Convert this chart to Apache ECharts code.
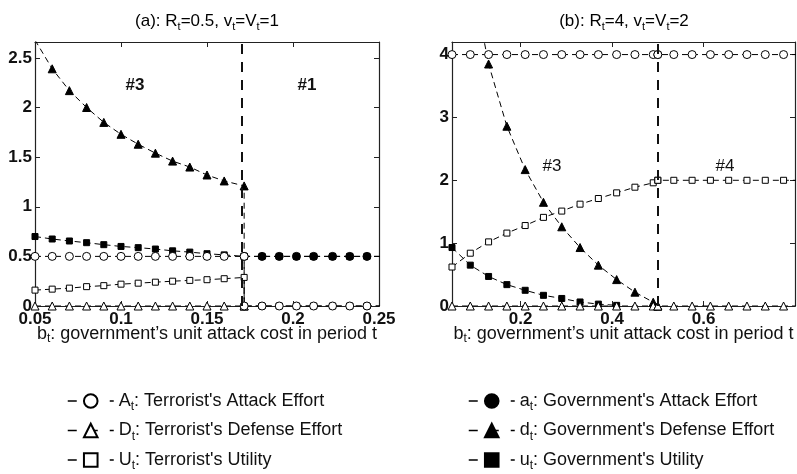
<!DOCTYPE html>
<html><head><meta charset="utf-8">
<script src="https://cdn.jsdelivr.net/npm/echarts@6/dist/echarts.min.js"></script>
<style>html,body{margin:0;padding:0;background:#fff}#c{width:797px;height:474px}</style>
</head><body><div id="c"></div>
<script>
// ---------- Panel (a): R_t=0.5, v_t=V_t=1 ----------
const boundaryA = 0.1716;
const xA3 = [0.05,0.06,0.07,0.08,0.09,0.10,0.11,0.12,0.13,0.14,0.15,0.16,0.1716];
const xA1 = [0.1716,0.182,0.192,0.202,0.212,0.223,0.233,0.243,0.253];
const A_a3 = [0.5,0.5,0.5,0.5,0.5,0.5,0.5,0.5,0.5,0.5,0.5,0.5,0.5];
const A_a1 = [0,0,0,0,0,0,0,0,0];
const D_a3 = [0,0,0,0,0,0,0,0,0,0,0,0,0];
const U_a3 = [0.16,0.17,0.18,0.195,0.205,0.22,0.23,0.24,0.25,0.258,0.265,0.275,0.288];
const U_a1 = [0,0,0,0,0,0,0,0,0];
const a_a1 = [0.5,0.5,0.5,0.5,0.5,0.5,0.5,0.5,0.5];
const d_a3 = [2.68,2.39,2.17,2.0,1.85,1.73,1.63,1.54,1.46,1.40,1.32,1.26,1.21];
const d_a1 = [0];
const u_a3 = [0.70,0.675,0.655,0.638,0.618,0.60,0.588,0.574,0.556,0.543,0.527,0.515,0.50];
const u_a1 = [0.5,0.5,0.5,0.5,0.5,0.5,0.5,0.5,0.5];

// ---------- Panel (b): R_t=4, v_t=V_t=2 ----------
const boundaryB = 0.5;
const xB3 = [0.05,0.09,0.13,0.17,0.21,0.25,0.29,0.33,0.37,0.41,0.45,0.49,0.5];
const xB4 = [0.5,0.535,0.575,0.615,0.655,0.695,0.735,0.775,0.815];
const A_b3 = [4,4,4,4,4,4,4,4,4,4,4,4,4];
const A_b4 = [4,4,4,4,4,4,4,4,4];
const D_b3 = [0,0,0,0,0,0,0,0,0,0,0,0,0];
const D_b4 = [0,0,0,0,0,0,0,0,0];
const U_b3 = [0.62,0.84,1.02,1.16,1.28,1.41,1.51,1.62,1.71,1.80,1.89,1.96,2.0];
const U_b4 = [2,2,2,2,2,2,2,2,2];
const d_b3 = [7.8,5.35,3.85,2.86,2.17,1.65,1.26,0.93,0.65,0.42,0.22,0.06,0];
const u_b3 = [0.93,0.65,0.47,0.34,0.25,0.17,0.12,0.064,0.03,0.01];

// ticks
const xTicksA = [0.05,0.1,0.15,0.2,0.25];
const yTicksA = [0,0.5,1,1.5,2,2.5];
const xLabelsB = [0.2,0.4,0.6];
const xTicksB = [0.2,0.4,0.6,0.8];
const yTicksB = [0,1,2,3,4];

const FONT = 'Liberation Sans, Arial, sans-serif';
const pairs = (xs, ys) => ys.map((y, i) => [xs[i], y]);

const subRich = (fs, sfs, lh, fw) => ({
  m: {fontSize: fs, fontFamily: FONT, fontWeight: fw || 'normal', color: '#111', lineHeight: lh, verticalAlign: 'middle'},
  s: {fontSize: sfs, fontFamily: FONT, fontWeight: fw || 'normal', color: '#111', lineHeight: sfs, verticalAlign: 'bottom'}
});

const markers = {
  A: {symbol: 'circle', symbolSize: 8, fill: '#fff'},
  D: {symbol: 'triangle', symbolSize: 8, fill: '#fff'},
  U: {symbol: 'rect', symbolSize: 6, fill: '#fff'},
  a: {symbol: 'circle', symbolSize: 8, fill: '#000'},
  d: {symbol: 'triangle', symbolSize: 8, fill: '#000'},
  u: {symbol: 'rect', symbolSize: 6, fill: '#000'}
};

function mkSeries(name, panel, data, extra) {
  const m = markers[name];
  return Object.assign({
    name: name, type: 'line',
    xAxisIndex: panel === 'a' ? 0 : 2, yAxisIndex: panel === 'a' ? 0 : 2,
    data: data, symbol: m.symbol, symbolSize: m.symbolSize, showAllSymbol: true,
    itemStyle: {color: m.fill, borderColor: '#000', borderWidth: 1},
    lineStyle: {color: '#000', width: 1, type: [6, 4]},
    emphasis: {disabled: true}, silent: true, clip: true
  }, extra || {});
}

function boundaryLine(x) {
  return {silent: true, symbol: ['none', 'none'], label: {show: false},
    lineStyle: {color: '#111', width: 2, type: [10, 8]}, data: [{xAxis: x}]};
}

const series = [
  // panel (a)
  mkSeries('d', 'a', pairs(xA3, d_a3).concat(pairs([boundaryA], d_a1)), {markLine: boundaryLine(boundaryA)}),
  mkSeries('u', 'a', pairs(xA3, u_a3).concat(pairs(xA1, u_a1))),
  mkSeries('a', 'a', pairs(xA1, a_a1)),
  mkSeries('U', 'a', pairs(xA3, U_a3).concat(pairs(xA1, U_a1))),
  mkSeries('D', 'a', pairs(xA3, D_a3)),
  mkSeries('A', 'a', pairs(xA3, A_a3).concat(pairs(xA1, A_a1))),
  // panel (b)
  mkSeries('d', 'b', pairs(xB3, d_b3), {markLine: boundaryLine(boundaryB)}),
  mkSeries('u', 'b', pairs(xB3, u_b3)),
  mkSeries('U', 'b', pairs(xB3, U_b3).concat(pairs(xB4, U_b4))),
  mkSeries('D', 'b', pairs(xB3, D_b3).concat(pairs(xB4, D_b4))),
  mkSeries('A', 'b', pairs(xB3, A_b3).concat(pairs(xB4, A_b4)))
];

const axisCol = '#222';
function xAx(grid, pos, min, max, labels, ticks, withName) {
  const ax = {
    gridIndex: grid, type: 'value', position: pos, min: min, max: max,
    axisLine: {show: true, onZero: false, lineStyle: {color: axisCol, width: 1.2}},
    axisTick: {show: true, inside: true, length: 5, customValues: ticks, lineStyle: {color: axisCol}},
    axisLabel: {show: pos === 'bottom', customValues: labels, color: '#111', fontSize: 17, fontWeight: 'bold', fontFamily: FONT, margin: 5},
    splitLine: {show: false}
  };
  if (withName) {
    ax.name = '{m|b}{s|t}{m|: government\u2019s unit attack cost in period t}';
    ax.nameLocation = 'middle';
    ax.nameGap = 17;
    ax.nameMoveOverlap = false;
    ax.nameTextStyle = {rich: subRich(18, 12, 22)};
  }
  return ax;
}
function yAx(grid, pos, min, max, ticks) {
  return {
    gridIndex: grid, type: 'value', position: pos, min: min, max: max,
    axisLine: {show: true, onZero: false, lineStyle: {color: axisCol, width: 1.2}},
    axisTick: {show: true, inside: true, length: 5, customValues: ticks, lineStyle: {color: axisCol}},
    axisLabel: {show: pos === 'left', customValues: ticks, color: '#111', fontSize: 17, fontWeight: 'bold', fontFamily: FONT, margin: 3},
    splitLine: {show: false}
  };
}

const legendNames = {
  A: "{m|A}{s|t}{m|: Terrorist's Attack Effort}",
  D: "{m|D}{s|t}{m|: Terrorist's Defense Effort}",
  U: "{m|U}{s|t}{m|: Terrorist's Utility}",
  a: "{m|a}{s|t}{m|: Government's Attack Effort}",
  d: "{m|d}{s|t}{m|: Government's Defense Effort}",
  u: "{m|u}{s|t}{m|: Government's Utility}"
};
function legendCfg(names, left) {
  return {
    data: names, left: left, top: 392, orient: 'vertical',
    width: 330, height: 120, padding: 0,
    itemWidth: 46, itemHeight: 17, itemGap: 8.5, selectedMode: false,
    lineStyle: {type: [9, 12], width: 1.5, color: '#000'},
    formatter: n => legendNames[n],
    textStyle: {rich: subRich(18, 12, 24)}
  };
}

const option = {
  animation: false,
  backgroundColor: '#fff',
  textStyle: {fontFamily: FONT},
  grid: [
    {left: 35, top: 42, width: 344, height: 264},
    {left: 452, top: 42, width: 343, height: 264}
  ],
  xAxis: [
    xAx(0, 'bottom', 0.05, 0.25, xTicksA, xTicksA, true),
    xAx(0, 'top', 0.05, 0.25, xTicksA, xTicksA, false),
    xAx(1, 'bottom', 0.05, 0.8, xLabelsB, xTicksB, true),
    xAx(1, 'top', 0.05, 0.8, xLabelsB, xTicksB, false)
  ],
  yAxis: [
    yAx(0, 'left', 0, 2.66, yTicksA),
    yAx(0, 'right', 0, 2.66, yTicksA),
    yAx(1, 'left', 0, 4.2, yTicksB),
    yAx(1, 'right', 0, 4.2, yTicksB)
  ],
  legend: [legendCfg(['A', 'D', 'U'], 67), legendCfg(['a', 'd', 'u'], 468)],
  graphic: [
    {type: 'text', x: 207, y: 21, silent: true, style: {text: '{m|(a): R}{s|t}{m|=0.5, v}{s|t}{m|=V}{s|t}{m|=1}', rich: subRich(17, 11, 22), align: 'center', verticalAlign: 'middle'}},
    {type: 'text', x: 624, y: 21, silent: true, style: {text: '{m|(b): R}{s|t}{m|=4, v}{s|t}{m|=V}{s|t}{m|=2}', rich: subRich(17, 11, 22), align: 'center', verticalAlign: 'middle'}},
    {type: 'text', x: 135, y: 85, silent: true, style: {text: '#3', font: 'bold 17px ' + FONT, fill: '#111', align: 'center', verticalAlign: 'middle'}},
    {type: 'text', x: 307, y: 85, silent: true, style: {text: '#1', font: 'bold 17px ' + FONT, fill: '#111', align: 'center', verticalAlign: 'middle'}},
    {type: 'text', x: 552, y: 166, silent: true, style: {text: '#3', font: '17px ' + FONT, fill: '#111', align: 'center', verticalAlign: 'middle'}},
    {type: 'text', x: 725, y: 166, silent: true, style: {text: '#4', font: '17px ' + FONT, fill: '#111', align: 'center', verticalAlign: 'middle'}}
  ],
  series: series
};

const chart = echarts.init(document.getElementById('c'), null, {renderer: 'canvas'});
chart.setOption(option);
</script>
</body></html>
